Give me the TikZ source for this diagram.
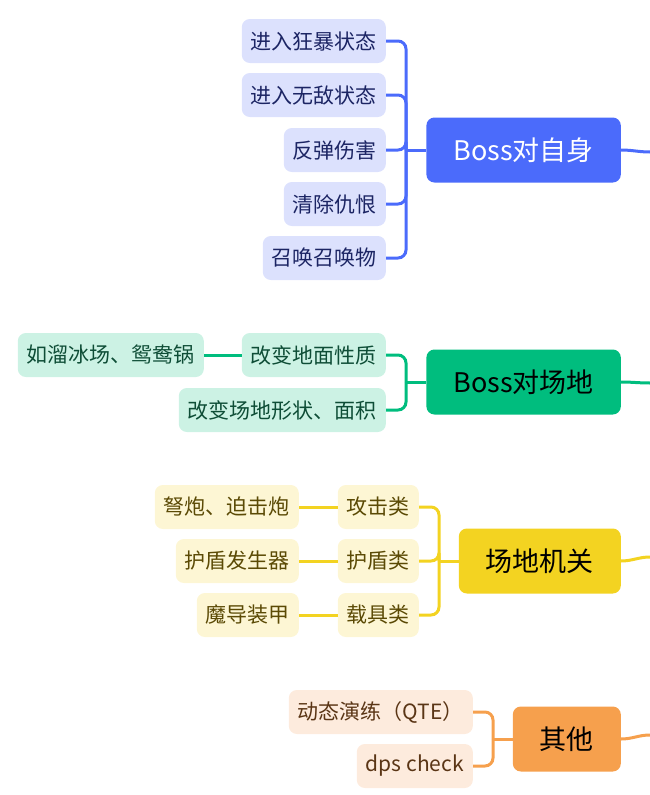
\documentclass[tikz,border=0pt]{standalone}
\usepackage{fontspec}
\setmainfont{Noto Sans CJK SC}
\definecolor{bluetop}{HTML}{4B6BFB}
\definecolor{bluesub}{HTML}{DCE1FD}
\definecolor{bluetxt}{HTML}{1C2564}
\definecolor{greentop}{HTML}{00BD7E}
\definecolor{greensub}{HTML}{CCF2E4}
\definecolor{greentxt}{HTML}{0E4D36}
\definecolor{yellowtop}{HTML}{F3D321}
\definecolor{yellowsub}{HTML}{FDF6D4}
\definecolor{yellowtxt}{HTML}{5B4A05}
\definecolor{orangetop}{HTML}{F6A04D}
\definecolor{orangesub}{HTML}{FDEBDD}
\definecolor{orangetxt}{HTML}{5A3515}

\begin{document}
\begin{tikzpicture}[x=1pt,y=-1pt,
    topic/.style={rounded corners=8pt,minimum height=65pt,inner xsep=27pt,anchor=east,font=\fontsize{27}{32}\selectfont},
    sub/.style={rounded corners=8pt,minimum height=44pt,inner xsep=9pt,anchor=east,font=\fontsize{21}{25}\selectfont},
    link/.style={line width=3pt,rounded corners=8pt}]
    \useasboundingbox (0,0) rectangle (650,795);

    % Boss对自身
    \node[topic,fill=bluetop,text=white] (selfT) at (621,150) {Boss对自身};
    \node[sub,fill=bluesub,text=bluetxt] (self1) at (386,41) {进入狂暴状态};
    \node[sub,fill=bluesub,text=bluetxt] (self2) at (386,95) {进入无敌状态};
    \node[sub,fill=bluesub,text=bluetxt] (self3) at (386,150) {反弹伤害};
    \node[sub,fill=bluesub,text=bluetxt] (self4) at (386,204) {清除仇恨};
    \node[sub,fill=bluesub,text=bluetxt] (self5) at (386,258) {召唤召唤物};
    \coordinate (selfJ) at (406,150);
    \coordinate (selfR) at (650,152);
    \foreach \i in {1,...,5}
        \draw[link,bluetop] (self\i.east) -| (selfJ);
    \draw[link,bluetop] (selfJ) -- (selfT.west);
    \draw[link,bluetop] (selfT.east) to[out=0,in=180] (selfR);

    % Boss对场地
    \node[topic,fill=greentop,text=black] (fieldT) at (621,382) {Boss对场地};
    \node[sub,fill=greensub,text=greentxt] (field1) at (386,355) {改变地面性质};
    \node[sub,fill=greensub,text=greentxt] (field2) at (386,410) {改变场地形状、面积};
    \node[sub,fill=greensub,text=greentxt] (field1a) at (204,355) {如溜冰场、鸳鸯锅};
    \coordinate (fieldJ) at (406,382);
    \coordinate (fieldR) at (650,383);
    \draw[link,greentop] (field1.east) -| (fieldJ);
    \draw[link,greentop] (field2.east) -| (fieldJ);
    \draw[link,greentop] (fieldJ) -- (fieldT.west);
    \draw[link,greentop] (field1a.east) -- (field1.west);
    \draw[link,greentop] (fieldT.east) to[out=0,in=180] (fieldR);

    % 场地机关
    \node[topic,fill=yellowtop,text=black] (mechT) at (621,561) {场地机关};
    \node[sub,fill=yellowsub,text=yellowtxt] (mech1) at (419,507) {攻击类};
    \node[sub,fill=yellowsub,text=yellowtxt] (mech2) at (419,561) {护盾类};
    \node[sub,fill=yellowsub,text=yellowtxt] (mech3) at (419,615) {载具类};
    \node[sub,fill=yellowsub,text=yellowtxt] (mech1a) at (299,507) {弩炮、迫击炮};
    \node[sub,fill=yellowsub,text=yellowtxt] (mech2a) at (299,561) {护盾发生器};
    \node[sub,fill=yellowsub,text=yellowtxt] (mech3a) at (299,615) {魔导装甲};
    \coordinate (mechJ) at (439,561);
    \coordinate (mechR) at (650,557);
    \foreach \i in {1,2,3} {
        \draw[link,yellowtop] (mech\i.east) -| (mechJ);
        \draw[link,yellowtop] (mech\i a.east) -- (mech\i.west);
    }
    \draw[link,yellowtop] (mechJ) -- (mechT.west);
    \draw[link,yellowtop] (mechT.east) to[out=0,in=180] (mechR);

    % 其他
    \node[topic,fill=orangetop,text=black] (otherT) at (621,739) {其他};
    \node[sub,fill=orangesub,text=orangetxt] (other1) at (473,712) {动态演练（QTE）};
    \node[sub,fill=orangesub,text=orangetxt] (other2) at (473,766) {dps check};
    \coordinate (otherJ) at (493,739);
    \coordinate (otherR) at (650,735);
    \draw[link,orangetop] (other1.east) -| (otherJ);
    \draw[link,orangetop] (other2.east) -| (otherJ);
    \draw[link,orangetop] (otherJ) -- (otherT.west);
    \draw[link,orangetop] (otherT.east) to[out=0,in=180] (otherR);
\end{tikzpicture}
\end{document}
